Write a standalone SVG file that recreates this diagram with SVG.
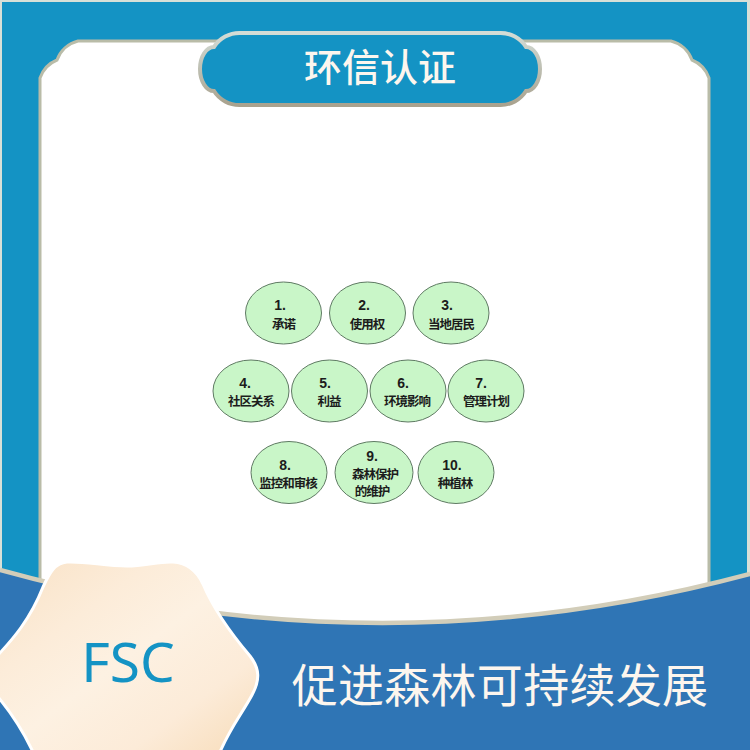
<svg xmlns="http://www.w3.org/2000/svg" width="750" height="750" viewBox="0 0 750 750">
<style>
.n ellipse{fill:#c9f6c8;stroke:#5f7a63;stroke-width:1}
.n text{font-family:"Liberation Sans","Noto Sans CJK SC",sans-serif;font-weight:bold;font-size:12.5px;letter-spacing:-1px;fill:#1c1c1c;text-anchor:middle}
.n .num{font-size:14px;letter-spacing:0}
.t{font-family:"Noto Sans CJK SC","Noto Sans",sans-serif;fill:#fdf6ee;text-anchor:middle}
</style>
<defs>
<linearGradient id="bevel" x1="0" y1="0" x2="0" y2="1"><stop offset="0" stop-color="#d3dcd6"/><stop offset="1" stop-color="#a9a28e"/></linearGradient>
<linearGradient id="peach" x1="0" y1="0" x2="1" y2="1"><stop offset="0" stop-color="#f9e2c6"/><stop offset=".3" stop-color="#fcecd9"/><stop offset=".5" stop-color="#fdf1e2"/><stop offset=".75" stop-color="#fcebd8"/><stop offset="1" stop-color="#f7dcb9"/></linearGradient>
</defs>
<rect width="750" height="750" fill="#d7e0d8"/>
<rect x="2" y="2" width="745" height="600" fill="#1493c4"/>
<g id="panel">
<path d="M40 650V78A30 30 0 0 1 57 60A30 30 0 0 1 78 41H671A30 30 0 0 1 692 60A30 30 0 0 1 709 78V650Z" fill="#fff" stroke="#b9bca8" stroke-width="3"/>
</g>
<g id="footer">
<path d="M0 570Q375 674 750 574V750H0Z" fill="#2f75b5"/>
<path d="M0 570Q375 674 750 574" fill="none" stroke="#d2cdb9" stroke-width="4.5"/>
</g>
<g id="title">
<path d="M240 33H500A30 30 0 0 1 526 47A14 22 0 0 1 526 91A30 30 0 0 1 500 105H240A30 30 0 0 1 214 91A14 22 0 0 1 214 47A30 30 0 0 1 240 33Z" fill="#1493c4" stroke="url(#bevel)" stroke-width="4"/>
<text class="t" font-weight="500" x="380" y="81" font-size="38">环信认证</text>
</g>
<g id="badge">
<path d="M67 562C85 561 105 566 127 566C145 566 160 561 173 562C188 563 197 571 203 584C213 608 228 630 250 656C260 669 260 680 252 695C243 712 230 728 220 752H33C24 733 13 715 -2 697V655C12 640 30 620 43 587C50 572 55 563 67 562Z" fill="url(#peach)" stroke="#fff" stroke-width="3"/>
<text x="128" y="682" font-family="'Noto Sans','Liberation Sans',sans-serif" font-size="55" fill="#1493c4" text-anchor="middle">FSC</text>
</g>
<text id="slogan" class="t" x="500" y="702" font-size="46" letter-spacing="0.3">促进森林可持续发展</text>
<g id="connectors"/>
<g id="n1" class="n"><ellipse cx="283.5" cy="313" rx="38" ry="31"/><text class="num" x="280" y="310">1.</text><text x="283.5" y="329">承诺</text></g>
<g id="n2" class="n"><ellipse cx="367.5" cy="313" rx="38" ry="31"/><text class="num" x="364" y="310">2.</text><text x="367" y="329">使用权</text></g>
<g id="n3" class="n"><ellipse cx="451" cy="313" rx="38" ry="31"/><text class="num" x="447" y="310">3.</text><text x="451" y="329">当地居民</text></g>
<g id="n4" class="n"><ellipse cx="251" cy="391" rx="38" ry="31"/><text class="num" x="245" y="388">4.</text><text x="251" y="406">社区关系</text></g>
<g id="n5" class="n"><ellipse cx="329.5" cy="391" rx="38" ry="31"/><text class="num" x="325" y="388">5.</text><text x="329" y="406">利益</text></g>
<g id="n6" class="n"><ellipse cx="408" cy="391" rx="38" ry="31"/><text class="num" x="403" y="388">6.</text><text x="407" y="406">环境影响</text></g>
<g id="n7" class="n"><ellipse cx="486" cy="391" rx="38" ry="31"/><text class="num" x="481" y="388">7.</text><text x="486" y="406">管理计划</text></g>
<g id="n8" class="n"><ellipse cx="289" cy="472.5" rx="38" ry="31"/><text class="num" x="285" y="470">8.</text><text x="288" y="488">监控和审核</text></g>
<g id="n9" class="n"><ellipse cx="374" cy="472.5" rx="39" ry="31"/><text class="num" x="372" y="461">9.</text><text x="375" y="479">森林保护</text><text x="372" y="496">的维护</text></g>
<g id="n10" class="n"><ellipse cx="456" cy="472.5" rx="38" ry="31"/><text class="num" x="452" y="470">10.</text><text x="455" y="488">种植林</text></g>
</svg>
